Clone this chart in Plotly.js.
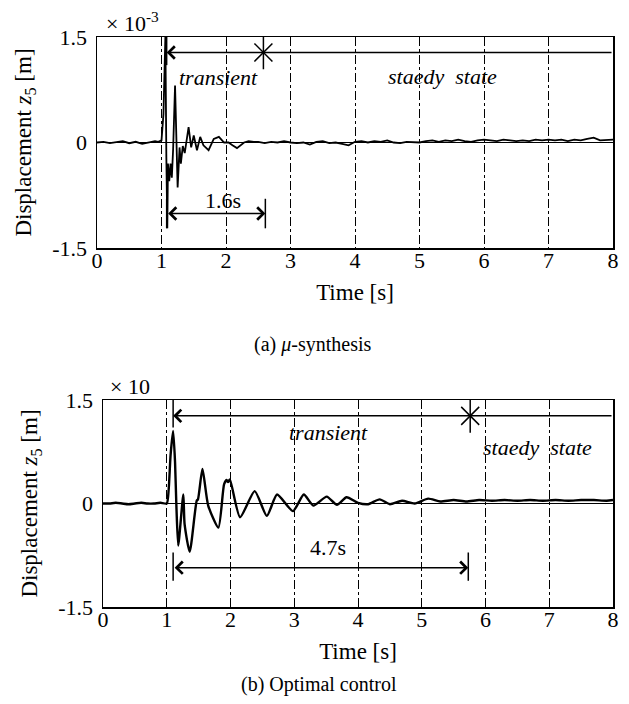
<!DOCTYPE html>
<html>
<head>
<meta charset="utf-8">
<script src="https://cdn.plot.ly/plotly-3.0.1.min.js"></script>
<style>html,body{margin:0;padding:0;background:#fff;}#chart{width:629px;height:704px;}</style>
</head>
<body>
<div id="chart"></div>
<script>
// ---------- Data ----------
// (a) mu-synthesis : displacement z5, units x10^-3 m
const timeA = [0,0.1,0.2,0.3,0.4,0.5,0.6,0.7,0.8,0.9,0.95,1.0,1.03,1.06,1.075,1.09,1.10,1.12,1.14,1.16,1.18,1.21,1.25,1.28,1.30,1.33,1.36,1.42,1.46,1.50,1.55,1.60,1.65,1.73,1.81,1.89,1.97,2.04,2.10,2.17,2.28,2.35,2.43,
  2.5,2.6,2.7,2.8,2.9,3.0,3.1,3.2,3.3,3.4,3.5,3.6,3.7,3.8,3.9,4.0,4.1,4.2,4.3,4.4,4.5,4.6,4.7,4.8,4.9,5.0,5.1,5.2,5.3,5.4,5.5,5.6,5.7,5.8,5.9,6.0,6.1,6.2,6.3,6.4,6.5,6.6,6.7,6.8,6.9,7.0,7.1,7.2,7.3,7.4,7.5,7.6,7.7,7.8,7.9,8.0];
const dispA = [0.0,0.01,-0.01,0.0,0.02,-0.01,0.01,-0.02,0.0,0.02,0.01,0.03,0.4,1.5,-0.2,-1.22,-0.3,-0.55,-0.3,-0.5,-0.1,0.81,-0.64,-0.07,-0.3,-0.05,-0.15,0.22,-0.07,0.10,-0.11,0.08,-0.04,-0.11,0.05,0.08,0.0,0.0,-0.04,-0.08,0.0,0.02,0.01,
  0.01,-0.01,0.01,0.0,0.02,0.0,-0.01,0.0,-0.03,0.01,0.02,-0.01,0.0,-0.02,-0.04,0.01,0.02,0.0,0.02,0.01,0.03,0.0,-0.01,0.01,0.0,0.0,0.02,0.03,0.01,0.03,0.02,0.04,0.02,0.01,0.03,0.04,0.03,0.02,0.04,0.03,0.02,0.03,0.02,0.04,0.03,0.04,0.03,0.04,0.02,0.04,0.03,0.05,0.07,0.03,0.04,0.04];

// (b) Optimal control : displacement z5, units x10 m
const timeB = [0,0.1,0.2,0.3,0.4,0.5,0.6,0.7,0.8,0.9,1.0,1.03,1.06,1.10,1.13,1.15,1.18,1.26,1.28,1.36,1.47,1.49,1.56,1.65,1.81,1.90,1.94,1.96,1.99,2.15,2.38,2.57,2.73,2.98,3.15,3.30,3.51,3.67,3.82,4.0,4.16,4.34,4.5,4.69,4.89,5.10,5.29,5.5,5.7,5.9,
  6.1,6.3,6.5,6.7,6.9,7.1,7.3,7.5,7.7,7.9,8.0];
const dispB = [0.0,0.0,0.01,0.0,-0.01,0.0,0.01,0.0,0.0,0.01,0.0,0.2,0.7,1.05,0.6,0.0,-0.61,0.13,-0.3,-0.70,0.04,0.06,0.50,-0.03,-0.35,0.28,0.34,0.31,0.35,-0.2,0.18,-0.18,0.13,-0.11,0.13,-0.03,0.10,-0.02,0.09,0.01,-0.01,0.06,-0.01,0.04,0.0,0.07,0.03,0.05,0.03,0.05,
  0.04,0.05,0.04,0.05,0.04,0.05,0.04,0.05,0.05,0.04,0.05];

const xTicks = [0,1,2,3,4,5,6,7,8];
const yTicks = [-1.5,0,1.5];
const yTickText = ['-1.5','0','1.5'];

// Annotation values (time in s, displacement in plot units)
const startA = 1.08, endA = 2.61, arrowYA = 1.28, spanYA = -1.01, starA = 2.58;
const startB = 1.10, endB = 5.73, arrowYB = 1.27, spanYB = -0.93, starB = 5.76;

// ---------- Layout helpers ----------
const FONT = 'Liberation Serif, Times New Roman, serif';
const W = 629, H = 704;
function px(x){return x/W;}
function py(y){return 1 - y/H;}

function xAxis(domain, anchor){
  return {domain:domain, anchor:anchor, range:[0,8], tickvals:xTicks, ticktext:xTicks.map(String),
    showgrid:true, gridcolor:'black', gridwidth:1, griddash:'dashdot', zeroline:false,
    showline:true, mirror:true, linecolor:'black', linewidth:1.5, ticks:'', ticklabelstandoff:-8,
    tickfont:{family:FONT,size:22,color:'black'},
    title:{text:'Time [s]', font:{family:FONT,size:23,color:'black'}, standoff:12}};
}
function yAxis(domain, anchor){
  return {domain:domain, anchor:anchor, range:[-1.5,1.5], tickvals:yTicks, ticktext:yTickText,
    showgrid:false, zeroline:true, zerolinecolor:'black', zerolinewidth:1,
    showline:true, mirror:true, linecolor:'black', linewidth:1.5, ticks:'', ticklabelstandoff:4,
    tickfont:{family:FONT,size:22,color:'black'},
    title:{text:'Displacement <i>z</i><sub>5</sub> [m]', font:{family:FONT,size:23,color:'black'}, standoff:14}};
}

function star(xa, ya, x, y, sym, size){
  return {x:[x], y:[y], xaxis:xa, yaxis:ya, mode:'markers',
    marker:{symbol:sym, size:size, color:'black', line:{color:'black', width:1.5}}, hoverinfo:'skip'};
}

const traces = [
  {x:timeA, y:dispA, xaxis:'x', yaxis:'y', mode:'lines', line:{color:'black', width:1.8}, hoverinfo:'skip'},
  {x:timeB, y:dispB, xaxis:'x2', yaxis:'y2', mode:'lines', line:{color:'black', width:2.4, shape:'spline', smoothing:0.6}, hoverinfo:'skip'},
  star('x','y', starA, arrowYA, 'x-thin-open', 18),
  star('x','y', starA, arrowYA, 'line-ns-open', 24),
  star('x2','y2', starB, arrowYB, 'x-thin-open', 18),
  star('x2','y2', starB, arrowYB, 'line-ns-open', 24)
];

function leftArrow(xr, yr, x0, y, x1){
  return {xref:xr, yref:yr, axref:xr, ayref:yr, x:x0, y:y, ax:x1, ay:y, text:'', showarrow:true,
    arrowhead:4, arrowsize:1.6, arrowwidth:1.5, arrowcolor:'black'};
}
function bothArrow(xr, yr, x0, y, x1){
  return {xref:xr, yref:yr, axref:xr, ayref:yr, x:x1, y:y, ax:x0, ay:y, text:'', showarrow:true,
    arrowside:'end+start', arrowhead:4, startarrowhead:4, arrowsize:1.6, startarrowsize:1.6, arrowwidth:1.5, arrowcolor:'black'};
}
function txt(xr, yr, x, y, t, italic){
  return {xref:xr, yref:yr, x:x, y:y, text: italic ? '<i>'+t+'</i>' : t, showarrow:false,
    font:{family:FONT, size:22, color:'black'}};
}

const annotations = [
  leftArrow('x','y', startA, arrowYA, 8),
  bothArrow('x','y', startA, spanYA, endA),
  txt('x','y', 1.88, 0.92, 'transient', true),
  txt('x','y', 5.36, 0.94, 'staedy\u00a0\u00a0state', true),
  txt('x','y', 1.96, -0.82, '1.6s', false),
  leftArrow('x2','y2', startB, arrowYB, 8),
  bothArrow('x2','y2', startB, spanYB, endB),
  txt('x2','y2', 3.54, 1.03, 'transient', true),
  txt('x2','y2', 6.82, 0.81, 'staedy\u00a0\u00a0state', true),
  txt('x2','y2', 3.53, -0.64, '4.7s', false),
  {xref:'paper', yref:'paper', x:px(104), y:py(22), xanchor:'left', yanchor:'middle', text:'× 10<sup>-3</sup>', showarrow:false, font:{family:FONT,size:22,color:'black'}},
  {xref:'paper', yref:'paper', x:px(108), y:py(386), xanchor:'left', yanchor:'middle', text:'× 10', showarrow:false, font:{family:FONT,size:22,color:'black'}},
  {xref:'paper', yref:'paper', x:px(312), y:py(344), xanchor:'center', yanchor:'middle', text:'(a) <i>μ</i>-synthesis', showarrow:false, font:{family:FONT,size:20,color:'black'}},
  {xref:'paper', yref:'paper', x:px(319), y:py(684), xanchor:'center', yanchor:'middle', text:'(b) Optimal control', showarrow:false, font:{family:FONT,size:20,color:'black'}}
];

function vbar(xr, yr, x, y0, y1){
  return {type:'line', xref:xr, yref:yr, x0:x, x1:x, y0:y0, y1:y1, line:{color:'black', width:1.5}};
}
const shapes = [
  vbar('x','y', startA, 1.5, 1.1),
  vbar('x','y', startA, -0.8, -1.22),
  vbar('x','y', endA, -0.8, -1.22),
  vbar('x2','y2', startB, 1.5, 1.1),
  vbar('x2','y2', startB, -0.71, -1.12),
  vbar('x2','y2', endB, -0.71, -1.12)
];

const layout = {
  width:W, height:H, margin:{l:0,r:0,t:0,b:0},
  paper_bgcolor:'white', plot_bgcolor:'white', showlegend:false,
  font:{family:FONT, size:22, color:'black'},
  xaxis: xAxis([px(97), px(613)], 'y'),
  yaxis: yAxis([py(248), py(37)], 'x'),
  xaxis2: xAxis([px(103), px(613)], 'y2'),
  yaxis2: yAxis([py(607), py(400)], 'x2'),
  annotations: annotations,
  shapes: shapes
};

Plotly.newPlot('chart', traces, layout, {staticPlot:true, displayModeBar:false});
</script>
</body>
</html>
